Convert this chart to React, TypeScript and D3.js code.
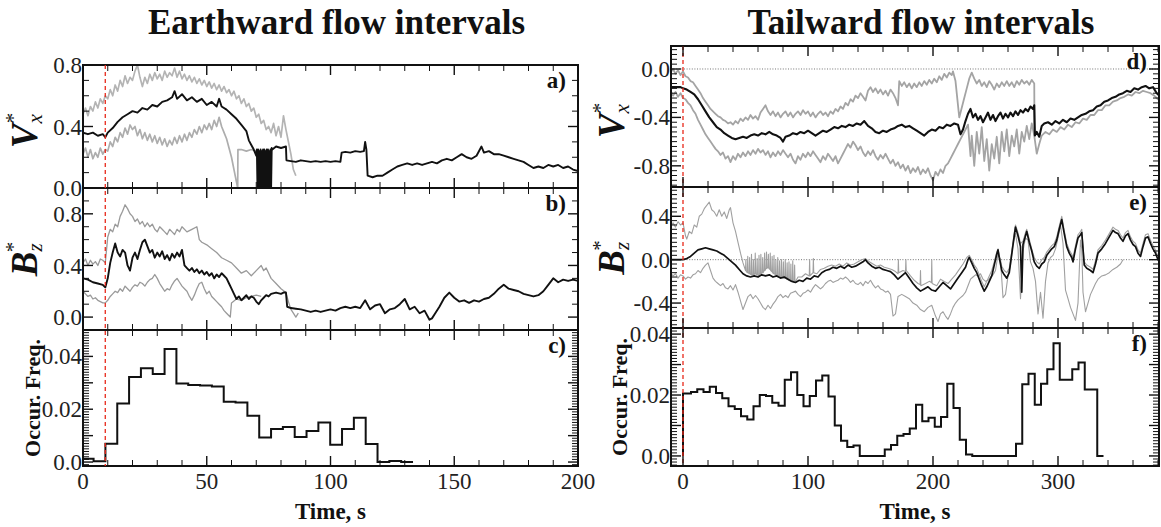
import React from "react";
import * as d3 from "d3";

type Pt = [number, number];

// ---------- Earthward flow intervals (left column) ----------
// a) Vx* : median (black), upper and lower quartiles (grey)
const earthVxMedian: Pt[] = [
  [0, 0.36], [2, 0.35], [4, 0.36], [6, 0.34], [8, 0.35], [9, 0.33], [10, 0.36], [12, 0.39], [14, 0.43], [16, 0.46],
  [18, 0.48], [20, 0.5], [22, 0.49], [24, 0.52], [26, 0.51], [28, 0.54], [30, 0.53], [32, 0.56], [34, 0.57], [36, 0.59],
  [37, 0.63], [38, 0.58], [40, 0.61], [42, 0.57], [44, 0.59], [46, 0.56], [48, 0.58], [50, 0.54], [52, 0.56], [54, 0.53],
  [55, 0.58], [56, 0.53], [58, 0.51], [60, 0.48], [62, 0.45], [64, 0.41], [66, 0.37], [67, 0.31], [68, 0.28], [69, 0.25],
  [70, 0.21], [70.25, 0.25], [70.5, 0.0], [70.75, 0.25], [71, 0.0], [71.25, 0.24], [71.5, 0.0], [71.75, 0.25],
  [72, 0.0], [72.25, 0.24], [72.5, 0.0], [72.75, 0.25], [73, 0.0], [73.25, 0.25], [73.5, 0.0], [73.75, 0.24],
  [74, 0.0], [74.25, 0.25], [74.5, 0.0], [74.75, 0.25], [75, 0.0], [75.25, 0.24], [75.5, 0.0], [75.75, 0.25],
  [76, 0.0], [76.25, 0.26], [76.5, 0.25], [78, 0.27], [80, 0.26], [82, 0.27], [82.2, 0.18],
  [84, 0.175], [86, 0.17], [88, 0.18], [90, 0.175], [92, 0.17], [94, 0.175], [96, 0.17], [98, 0.175], [100, 0.17],
  [102, 0.175], [104, 0.17], [104.5, 0.23], [106, 0.235], [108, 0.23], [110, 0.24], [112, 0.235], [113.5, 0.24],
  [114, 0.3], [114.5, 0.25], [115, 0.08], [117, 0.07], [119, 0.08], [121, 0.08], [123, 0.1], [125, 0.12], [127, 0.14],
  [129, 0.15], [131, 0.16], [133, 0.15], [135, 0.16], [137, 0.15], [139, 0.16], [141, 0.17], [143, 0.16], [145, 0.18],
  [147, 0.19], [149, 0.18], [151, 0.2], [153, 0.22], [155, 0.2], [157, 0.19], [159, 0.21], [161, 0.27], [162, 0.23],
  [164, 0.24], [166, 0.22], [168, 0.22], [170, 0.21], [172, 0.2], [174, 0.19], [176, 0.18], [178, 0.17], [180, 0.15],
  [182, 0.13], [184, 0.14], [186, 0.13], [188, 0.15], [190, 0.14], [192, 0.15], [194, 0.13], [196, 0.14], [198, 0.12],
  [200, 0.11],
];
const earthVxUpper: Pt[] = [
  [0, 0.48], [1, 0.52], [2, 0.47], [3, 0.53], [4, 0.5], [5, 0.56], [6, 0.52], [7, 0.58], [8, 0.55], [9, 0.6],
  [10, 0.58], [11, 0.64], [12, 0.6], [13, 0.67], [14, 0.63], [15, 0.7], [16, 0.66], [17, 0.73], [18, 0.68], [19, 0.72],
  [20, 0.7], [21, 0.76], [22, 0.8], [23, 0.72], [24, 0.66], [25, 0.72], [26, 0.68], [27, 0.74], [28, 0.7], [29, 0.75],
  [30, 0.71], [31, 0.74], [32, 0.7], [33, 0.76], [34, 0.72], [35, 0.75], [36, 0.73], [37, 0.78], [38, 0.72], [39, 0.76],
  [40, 0.71], [41, 0.74], [42, 0.7], [43, 0.73], [44, 0.69], [45, 0.72], [46, 0.68], [47, 0.71], [48, 0.67], [49, 0.7],
  [50, 0.66], [51, 0.69], [52, 0.65], [53, 0.68], [54, 0.64], [55, 0.67], [56, 0.63], [57, 0.66], [58, 0.62], [59, 0.64],
  [60, 0.6], [61, 0.63], [62, 0.58], [63, 0.6], [64, 0.55], [65, 0.58], [66, 0.53], [67, 0.55], [68, 0.5], [69, 0.52],
  [70, 0.46], [71, 0.48], [72, 0.42], [73, 0.44], [74, 0.38], [75, 0.4], [76, 0.36], [77, 0.42], [78, 0.34], [79, 0.4],
  [80, 0.33], [81, 0.47], [82, 0.38], [83, 0.3], [84, 0.22], [85, 0.12], [86, 0.08],
];
const earthVxLower: Pt[] = [
  [0, 0.22], [1, 0.26], [2, 0.2], [3, 0.25], [4, 0.19], [5, 0.23], [6, 0.2], [7, 0.26], [8, 0.22], [9, 0.25],
  [10, 0.24], [11, 0.3], [12, 0.27], [13, 0.33], [14, 0.3], [15, 0.36], [16, 0.33], [17, 0.39], [18, 0.35], [19, 0.41],
  [20, 0.38], [21, 0.4], [22, 0.34], [23, 0.38], [24, 0.32], [25, 0.36], [26, 0.31], [27, 0.35], [28, 0.3], [29, 0.34],
  [30, 0.29], [31, 0.33], [32, 0.28], [33, 0.32], [34, 0.27], [35, 0.31], [36, 0.28], [37, 0.33], [38, 0.29], [39, 0.34],
  [40, 0.3], [41, 0.35], [42, 0.31], [43, 0.36], [44, 0.33], [45, 0.38], [46, 0.35], [47, 0.4], [48, 0.36], [49, 0.41],
  [50, 0.38], [51, 0.42], [52, 0.38], [53, 0.44], [54, 0.4], [55, 0.46], [56, 0.4], [57, 0.36], [58, 0.32], [59, 0.26],
  [60, 0.2], [61, 0.12], [62, 0.04], [62.5, 0.0], [62.6, 0.25], [64, 0.25], [66, 0.24], [68, 0.25], [70, 0.24], [71, 0.22],
];

// b) Bz*
const earthBzMedian: Pt[] = [
  [0, 0.3], [2, 0.29], [4, 0.27], [6, 0.26], [8, 0.25], [9, 0.23], [10, 0.3], [11, 0.42], [12, 0.5], [13, 0.57],
  [14, 0.5], [15, 0.47], [16, 0.52], [17, 0.5], [18, 0.4], [19, 0.36], [20, 0.46], [21, 0.5], [22, 0.45], [23, 0.52],
  [24, 0.58], [25, 0.6], [26, 0.55], [27, 0.5], [28, 0.52], [29, 0.46], [30, 0.5], [31, 0.47], [32, 0.51], [33, 0.45],
  [34, 0.48], [35, 0.44], [36, 0.49], [37, 0.46], [38, 0.5], [39, 0.47], [40, 0.52], [41, 0.4], [42, 0.38], [43, 0.36],
  [44, 0.38], [45, 0.35], [46, 0.37], [47, 0.34], [48, 0.36], [49, 0.33], [50, 0.35], [51, 0.32], [52, 0.34], [53, 0.3],
  [54, 0.33], [55, 0.31], [56, 0.34], [57, 0.32], [58, 0.3], [59, 0.26], [60, 0.22], [61, 0.18], [62, 0.14], [63, 0.16],
  [64, 0.13], [65, 0.15], [66, 0.17], [67, 0.14], [68, 0.16], [69, 0.15], [70, 0.12], [71, 0.1], [72, 0.13], [73, 0.15],
  [74, 0.17], [75, 0.16], [76, 0.18], [78, 0.19], [80, 0.18], [81, 0.19], [82, 0.19], [82.5, 0.08], [84, 0.07],
  [86, 0.065], [88, 0.06], [90, 0.05], [92, 0.04], [94, 0.05], [96, 0.04], [98, 0.05], [100, 0.06], [102, 0.05],
  [104, 0.07], [106, 0.08], [108, 0.07], [110, 0.08], [112, 0.07], [114, 0.13], [116, 0.06], [118, 0.09], [120, 0.1],
  [122, 0.03], [124, 0.06], [126, 0.07], [128, 0.1], [130, 0.14], [132, 0.06], [134, 0.08], [136, 0.03], [138, 0.05],
  [140, -0.02], [141, -0.01], [142, 0.02], [144, 0.08], [146, 0.15], [148, 0.19], [150, 0.15], [152, 0.12], [154, 0.13],
  [156, 0.11], [158, 0.13], [160, 0.12], [162, 0.14], [164, 0.15], [166, 0.18], [168, 0.22], [170, 0.25], [172, 0.22],
  [174, 0.21], [176, 0.2], [178, 0.18], [180, 0.17], [182, 0.16], [184, 0.17], [186, 0.2], [188, 0.25], [190, 0.3],
  [192, 0.27], [194, 0.29], [196, 0.28], [198, 0.29], [200, 0.28],
];
const earthBzUpper: Pt[] = [
  [0, 0.42], [1, 0.45], [2, 0.4], [3, 0.44], [4, 0.41], [5, 0.43], [6, 0.4], [7, 0.45], [8, 0.44], [9, 0.42],
  [10, 0.62], [11, 0.68], [12, 0.66], [13, 0.72], [14, 0.7], [15, 0.78], [16, 0.82], [17, 0.87], [18, 0.84], [19, 0.8],
  [20, 0.78], [21, 0.74], [22, 0.76], [23, 0.72], [24, 0.74], [25, 0.7], [26, 0.73], [27, 0.7], [28, 0.72], [29, 0.68],
  [30, 0.66], [31, 0.7], [32, 0.68], [33, 0.66], [34, 0.64], [35, 0.68], [36, 0.66], [37, 0.64], [38, 0.68], [39, 0.66],
  [40, 0.7], [42, 0.66], [44, 0.68], [46, 0.7], [47, 0.6], [48, 0.58], [50, 0.56], [52, 0.53], [54, 0.5], [56, 0.46],
  [58, 0.44], [60, 0.42], [62, 0.38], [64, 0.34], [66, 0.36], [68, 0.32], [70, 0.36], [72, 0.4], [73, 0.36], [74, 0.38],
  [76, 0.3], [78, 0.26], [80, 0.22], [82, 0.19], [83, 0.12], [84, 0.06], [85, 0.03], [86, 0.0], [87, 0.03],
];
const earthBzLower: Pt[] = [
  [0, 0.2], [1, 0.18], [2, 0.16], [3, 0.17], [4, 0.14], [5, 0.15], [6, 0.13], [7, 0.12], [8, 0.11], [9, 0.11],
  [10, 0.13], [11, 0.16], [12, 0.18], [13, 0.2], [14, 0.19], [15, 0.22], [16, 0.2], [17, 0.24], [18, 0.22], [19, 0.2],
  [20, 0.23], [21, 0.25], [22, 0.24], [23, 0.27], [24, 0.26], [25, 0.24], [26, 0.27], [27, 0.29], [28, 0.3], [29, 0.33],
  [30, 0.3], [31, 0.26], [32, 0.23], [33, 0.2], [34, 0.22], [35, 0.21], [36, 0.25], [37, 0.28], [38, 0.3], [39, 0.27],
  [40, 0.24], [41, 0.22], [42, 0.2], [43, 0.16], [44, 0.13], [45, 0.17], [46, 0.22], [47, 0.26], [48, 0.27], [49, 0.22],
  [50, 0.18], [51, 0.2], [52, 0.16], [53, 0.14], [54, 0.12], [55, 0.1], [56, 0.08], [57, 0.05], [58, 0.03], [59, 0.01],
  [59.5, 0.0], [60, 0.11], [62, 0.14], [64, 0.13], [66, 0.15], [68, 0.16], [70, 0.17], [72, 0.16],
];

// c) occurrence frequency histogram
const earthBinStart = -0.5;
const earthBinWidth = 4.78;
const earthFreq = [
  0.0012, 0.0003, 0.0069, 0.0222, 0.0322, 0.0355, 0.0333, 0.0428, 0.0297, 0.0292, 0.029, 0.0286, 0.0228, 0.0225,
  0.0175, 0.0093, 0.0125, 0.0133, 0.0095, 0.0118, 0.015, 0.0065, 0.0125, 0.0168, 0.0068, 0.0, 0.0004, 0.0,
];

// ---------- Tailward flow intervals (right column) ----------
// d) Vx*
const tailVxMedian: Pt[] = [
  [-10, -0.15], [-6, -0.15], [-2, -0.15], [0, -0.16], [3, -0.17], [6, -0.19], [9, -0.21], [12, -0.25], [15, -0.3],
  [18, -0.35], [21, -0.4], [24, -0.44], [27, -0.48], [30, -0.5], [33, -0.53], [36, -0.55], [39, -0.57], [42, -0.58],
  [45, -0.57], [48, -0.56], [51, -0.57], [54, -0.55], [57, -0.54], [60, -0.55], [63, -0.53], [66, -0.54], [69, -0.52],
  [72, -0.54], [75, -0.55], [78, -0.57], [80, -0.6], [82, -0.56], [85, -0.55], [88, -0.53], [91, -0.54], [94, -0.52],
  [97, -0.53], [100, -0.51], [103, -0.53], [106, -0.55], [109, -0.53], [112, -0.51], [115, -0.52], [118, -0.5],
  [121, -0.48], [124, -0.49], [127, -0.47], [130, -0.48], [133, -0.46], [136, -0.47], [139, -0.45], [142, -0.46],
  [145, -0.43], [148, -0.47], [151, -0.49], [154, -0.52], [157, -0.53], [160, -0.51], [163, -0.52], [166, -0.5],
  [169, -0.49], [172, -0.47], [175, -0.46], [178, -0.48], [181, -0.47], [184, -0.49], [187, -0.51], [190, -0.53],
  [193, -0.55], [196, -0.52], [199, -0.5], [202, -0.51], [205, -0.48], [208, -0.49], [211, -0.46], [214, -0.47],
  [217, -0.45], [220, -0.46], [222, -0.54], [224, -0.5], [226, -0.43], [228, -0.37], [230, -0.33], [232, -0.4],
  [234, -0.37], [236, -0.42], [238, -0.39], [240, -0.44], [242, -0.4], [244, -0.36], [246, -0.42], [248, -0.38],
  [250, -0.43], [252, -0.39], [254, -0.36], [256, -0.41], [258, -0.37], [260, -0.4], [262, -0.36], [264, -0.39],
  [266, -0.35], [268, -0.38], [270, -0.34], [272, -0.36], [274, -0.33], [276, -0.35], [278, -0.31], [280, -0.33],
  [281, -0.3], [281.5, -0.55], [283, -0.52], [285, -0.56], [287, -0.47], [289, -0.45], [292, -0.44], [295, -0.46],
  [298, -0.43], [301, -0.45], [304, -0.42], [307, -0.44], [310, -0.41], [313, -0.42], [316, -0.4], [319, -0.38],
  [322, -0.37], [325, -0.35], [328, -0.34], [331, -0.31], [334, -0.3], [337, -0.27], [340, -0.26], [343, -0.24],
  [346, -0.23], [349, -0.21], [352, -0.2], [355, -0.18], [358, -0.19], [361, -0.16], [364, -0.17], [367, -0.15],
  [370, -0.14], [373, -0.16], [376, -0.15], [379, -0.2], [382, -0.23],
];
const tailVxUpper: Pt[] = [
  [-10, -0.03], [-8, 0.0], [-6, -0.04], [-4, -0.01], [-2, -0.05], [0, -0.02], [2, -0.06], [4, -0.07], [6, -0.1],
  [8, -0.11], [10, -0.14], [12, -0.17], [14, -0.2], [16, -0.24], [18, -0.27], [20, -0.3], [22, -0.33], [24, -0.35],
  [26, -0.37], [28, -0.39], [30, -0.4], [32, -0.42], [34, -0.43], [36, -0.45], [38, -0.44], [40, -0.46], [42, -0.43],
  [44, -0.45], [46, -0.41], [48, -0.43], [50, -0.4], [52, -0.42], [54, -0.38], [56, -0.41], [58, -0.39], [60, -0.42],
  [62, -0.36], [64, -0.33], [66, -0.3], [68, -0.35], [70, -0.38], [72, -0.35], [74, -0.39], [76, -0.36], [78, -0.4],
  [80, -0.37], [82, -0.35], [84, -0.39], [86, -0.36], [88, -0.4], [90, -0.37], [92, -0.35], [94, -0.38], [96, -0.34],
  [98, -0.37], [100, -0.35], [102, -0.39], [104, -0.36], [106, -0.4], [108, -0.37], [110, -0.35], [112, -0.38],
  [114, -0.36], [116, -0.39], [118, -0.35], [120, -0.37], [122, -0.33], [124, -0.35], [126, -0.31], [128, -0.33],
  [130, -0.28], [132, -0.3], [134, -0.25], [136, -0.27], [138, -0.22], [140, -0.24], [142, -0.2], [144, -0.23],
  [146, -0.26], [148, -0.18], [150, -0.15], [152, -0.19], [154, -0.16], [156, -0.2], [158, -0.17], [160, -0.21],
  [162, -0.18], [164, -0.22], [166, -0.17], [168, -0.2], [170, -0.24], [172, -0.3], [173, -0.1], [175, -0.14],
  [177, -0.11], [179, -0.15], [181, -0.12], [183, -0.16], [185, -0.12], [187, -0.15], [189, -0.11], [191, -0.14],
  [193, -0.1], [195, -0.13], [197, -0.09], [199, -0.12], [201, -0.08], [203, -0.11], [205, -0.06], [207, -0.09],
  [209, -0.04], [211, -0.07], [213, -0.03], [215, -0.05], [216, -0.02], [218, -0.1], [220, -0.3], [221, -0.4],
  [223, -0.32], [225, -0.24], [227, -0.16], [229, -0.08], [231, -0.03], [233, -0.08], [235, -0.12], [237, -0.09],
  [239, -0.14], [241, -0.11], [243, -0.15], [245, -0.1], [247, -0.13], [249, -0.17], [251, -0.12], [253, -0.15],
  [255, -0.11], [257, -0.14], [259, -0.1], [261, -0.14], [263, -0.11], [265, -0.15], [267, -0.1], [269, -0.13],
  [271, -0.09], [273, -0.12], [275, -0.1], [277, -0.13], [279, -0.09], [281, -0.12], [281.2, -0.52],
];
const tailVxLower: Pt[] = [
  [-10, -0.18], [-8, -0.22], [-6, -0.19], [-4, -0.23], [-2, -0.2], [0, -0.24], [2, -0.25], [4, -0.28], [6, -0.3],
  [8, -0.34], [10, -0.37], [12, -0.42], [14, -0.46], [16, -0.5], [18, -0.54], [20, -0.57], [22, -0.6], [24, -0.63],
  [26, -0.66], [28, -0.68], [30, -0.71], [32, -0.69], [34, -0.74], [36, -0.72], [38, -0.77], [40, -0.72], [42, -0.75],
  [44, -0.7], [46, -0.73], [48, -0.69], [50, -0.72], [52, -0.68], [54, -0.71], [56, -0.67], [58, -0.7], [60, -0.66],
  [62, -0.69], [64, -0.67], [66, -0.71], [68, -0.68], [70, -0.73], [72, -0.69], [74, -0.72], [76, -0.68], [78, -0.71],
  [80, -0.67], [82, -0.7], [84, -0.73], [86, -0.7], [88, -0.75], [90, -0.78], [92, -0.72], [94, -0.75], [96, -0.7],
  [98, -0.73], [100, -0.69], [102, -0.72], [104, -0.68], [106, -0.71], [108, -0.74], [110, -0.77], [112, -0.72],
  [114, -0.75], [116, -0.7], [118, -0.73], [120, -0.76], [122, -0.72], [124, -0.78], [126, -0.74], [128, -0.7],
  [130, -0.66], [132, -0.62], [134, -0.65], [136, -0.6], [138, -0.63], [140, -0.67], [142, -0.64], [144, -0.69],
  [146, -0.72], [148, -0.68], [150, -0.71], [152, -0.67], [154, -0.72], [156, -0.75], [158, -0.71], [160, -0.74],
  [162, -0.7], [164, -0.74], [166, -0.78], [168, -0.75], [170, -0.8], [172, -0.77], [174, -0.82], [176, -0.79],
  [178, -0.84], [180, -0.8], [182, -0.86], [184, -0.82], [186, -0.85], [188, -0.81], [190, -0.87], [192, -0.83],
  [194, -0.86], [196, -0.82], [198, -0.88], [200, -0.92], [202, -0.85], [204, -0.88], [206, -0.83], [208, -0.86],
  [210, -0.8], [212, -0.78], [214, -0.74], [216, -0.7], [218, -0.66], [220, -0.62], [222, -0.58], [224, -0.54],
  [226, -0.5], [228, -0.46], [230, -0.72], [231, -0.55], [233, -0.8], [235, -0.52], [237, -0.7], [239, -0.48],
  [241, -0.76], [243, -0.58], [245, -0.84], [247, -0.62], [249, -0.74], [251, -0.56], [253, -0.78], [255, -0.52],
  [257, -0.68], [259, -0.5], [261, -0.72], [263, -0.55], [265, -0.64], [267, -0.5], [269, -0.7], [271, -0.52],
  [273, -0.6], [275, -0.47], [277, -0.58], [279, -0.45], [281, -0.55], [283, -0.7], [285, -0.62], [287, -0.55],
  [290, -0.52], [293, -0.54], [296, -0.5], [299, -0.52], [302, -0.48], [305, -0.5], [308, -0.46], [311, -0.48],
  [314, -0.44], [317, -0.45], [320, -0.41], [323, -0.42], [326, -0.38], [329, -0.38], [332, -0.34], [335, -0.34],
  [338, -0.3], [341, -0.3], [344, -0.27], [347, -0.26], [350, -0.24], [353, -0.23], [356, -0.21], [359, -0.22],
  [362, -0.19], [365, -0.2], [368, -0.18], [371, -0.19], [374, -0.2], [377, -0.22], [380, -0.25], [383, -0.27],
];

// e) Bz*
const tailBzMedian: Pt[] = [
  [-10, 0.0], [-6, 0.0], [-2, 0.0], [0, 0.0], [3, 0.01], [6, 0.03], [9, 0.06], [12, 0.09], [15, 0.1], [18, 0.11],
  [21, 0.1], [24, 0.09], [27, 0.08], [30, 0.06], [33, 0.04], [36, 0.01], [39, -0.02], [42, -0.05], [45, -0.09],
  [48, -0.13], [51, -0.15], [54, -0.16], [57, -0.15], [60, -0.16], [63, -0.14], [66, -0.15], [69, -0.14], [72, -0.16],
  [75, -0.15], [78, -0.17], [81, -0.16], [84, -0.18], [87, -0.2], [90, -0.21], [93, -0.19], [96, -0.2], [99, -0.17],
  [102, -0.18], [105, -0.15], [108, -0.16], [111, -0.12], [114, -0.1], [117, -0.09], [120, -0.07], [123, -0.08],
  [126, -0.06], [129, -0.08], [132, -0.05], [135, -0.07], [138, -0.06], [141, -0.04], [144, -0.02], [146, 0.0],
  [148, -0.03], [151, -0.06], [154, -0.08], [157, -0.07], [160, -0.09], [163, -0.1], [166, -0.11], [169, -0.14],
  [172, -0.18], [175, -0.15], [178, -0.12], [181, -0.17], [184, -0.22], [187, -0.26], [190, -0.29], [193, -0.27],
  [196, -0.25], [199, -0.28], [202, -0.29], [205, -0.25], [208, -0.21], [211, -0.24], [214, -0.27], [217, -0.22],
  [220, -0.17], [223, -0.12], [226, -0.07], [228, 0.0], [229, 0.02], [231, -0.03], [233, -0.08], [235, -0.12],
  [237, -0.18], [239, -0.24], [241, -0.29], [243, -0.25], [245, -0.2], [247, -0.15], [249, -0.05], [251, 0.05],
  [252, 0.09], [253, 0.02], [255, -0.1], [257, -0.14], [259, -0.17], [261, -0.12], [263, 0.05], [265, 0.22],
  [266, 0.3], [268, 0.22], [270, 0.12], [271, -0.3], [272, 0.14], [274, 0.22], [275, 0.26], [277, 0.16], [279, 0.08],
  [281, -0.02], [283, -0.06], [285, -0.08], [287, -0.04], [289, -0.02], [291, 0.04], [293, 0.07], [295, 0.1],
  [297, 0.12], [299, 0.18], [301, 0.28], [303, 0.37], [305, 0.24], [307, 0.12], [309, 0.06], [311, 0.02],
  [312, -0.02], [314, 0.1], [316, 0.2], [318, 0.23], [319, 0.25], [320, 0.1], [321, -0.05], [323, -0.08],
  [326, -0.1], [328, -0.12], [330, -0.04], [332, 0.06], [335, 0.1], [338, 0.15], [341, 0.21], [344, 0.27],
  [346, 0.25], [348, 0.24], [350, 0.2], [352, 0.17], [354, 0.22], [356, 0.24], [358, 0.18], [360, 0.14], [362, 0.12],
  [364, 0.06], [366, 0.03], [368, 0.12], [370, 0.2], [372, 0.21], [374, 0.15], [376, 0.1], [378, 0.06], [380, 0.0],
  [382, -0.03],
];
const tailBzUpper: Pt[] = [
  [-10, 0.3], [-8, 0.34], [-6, 0.3], [-4, 0.35], [-2, 0.32], [0, 0.34], [2, 0.22], [3, 0.19], [5, 0.26], [7, 0.24],
  [9, 0.32], [11, 0.3], [13, 0.4], [15, 0.42], [17, 0.47], [19, 0.5], [21, 0.53], [23, 0.46], [25, 0.44], [27, 0.4],
  [29, 0.46], [31, 0.4], [33, 0.44], [35, 0.38], [37, 0.46], [38, 0.48], [40, 0.34], [42, 0.26], [44, 0.16], [46, 0.06],
  [48, -0.03], [50, -0.1], [50.3, 0.0], [50.6, -0.11], [51.5, -0.12], [51.8, 0.03], [52.1, -0.12], [53, -0.13],
  [53.3, 0.02], [53.6, -0.13], [54.5, -0.14], [54.8, 0.05], [55.1, -0.14], [56, -0.14], [56.3, 0.0], [56.6, -0.14],
  [57.5, -0.13], [57.8, 0.06], [58.1, -0.13], [59, -0.14], [59.3, 0.01], [59.6, -0.14], [60.5, -0.15], [60.8, 0.04],
  [61.1, -0.14], [62, -0.13], [62.3, 0.05], [62.6, -0.13], [63.5, -0.12], [63.8, 0.02], [64.1, -0.12], [65, -0.1],
  [65.3, 0.06], [65.6, -0.1], [66.5, -0.08], [66.8, 0.07], [67.1, -0.08], [68, -0.07], [68.3, 0.05], [68.6, -0.08],
  [69.5, -0.09], [69.8, 0.06], [70.1, -0.1], [71, -0.11], [71.3, 0.03], [71.6, -0.12], [72.5, -0.13], [72.8, 0.04],
  [73.1, -0.13], [74, -0.14], [74.3, 0.0], [74.6, -0.14], [75.5, -0.15], [75.8, 0.02], [76.1, -0.15], [77, -0.15],
  [77.3, -0.01], [77.6, -0.16], [78.5, -0.16], [78.8, 0.0], [79.1, -0.16], [80, -0.17], [80.3, -0.02], [80.6, -0.17],
  [81.5, -0.17], [81.8, 0.0], [82.1, -0.17], [83, -0.18], [83.3, -0.03], [83.6, -0.18], [84.5, -0.19], [84.8, -0.02],
  [85.1, -0.19], [86, -0.2], [86.3, -0.04], [86.6, -0.2], [87.5, -0.2], [87.8, -0.01], [88.1, -0.2], [89, -0.21],
  [89.3, -0.05], [89.6, -0.21], [92, -0.16], [95, -0.16], [98, -0.13], [101, -0.15], [101.3, 0.0], [101.6, -0.15],
  [104, -0.12], [104.3, 0.01], [104.6, -0.12], [107, -0.13], [110, -0.09], [113, -0.08], [116, -0.06], [119, -0.05],
  [122, -0.06], [125, -0.04], [128, -0.06], [131, -0.03], [134, -0.05], [137, -0.04], [140, -0.02], [143, 0.0],
  [146, 0.01], [149, -0.02], [152, -0.04], [155, -0.06], [158, -0.05], [161, -0.07], [164, -0.08], [167, -0.09],
  [170, -0.11], [172, -0.13], [172.3, 0.0], [172.6, -0.12], [176, -0.1], [178, -0.11], [178.3, 0.0], [178.6, -0.1],
  [182, -0.15], [185, -0.19], [188, -0.22], [189.7, -0.23], [190, -0.1], [190.3, -0.24], [194, -0.22], [197, -0.2],
  [198.7, -0.21], [199, 0.0], [199.3, -0.22], [203, -0.24], [206, -0.18], [209, -0.2], [212, -0.22], [215, -0.18],
  [218, -0.14], [221, -0.09], [224, -0.04], [227, 0.02], [229, 0.04], [231, 0.0], [233, -0.05], [235, -0.08],
  [237, -0.14], [239, -0.2], [241, -0.25], [243, -0.2], [245, -0.15], [247, -0.1], [249, -0.02], [251, 0.07],
  [252, 0.1], [253, 0.04], [255, -0.06], [257, -0.1], [259, -0.12], [261, -0.08], [263, 0.08], [265, 0.25], [266, 0.32],
  [268, 0.25], [270, 0.15], [272, 0.17], [274, 0.25], [275, 0.28], [277, 0.19], [279, 0.1], [281, 0.02], [283, -0.02],
  [285, -0.04], [287, 0.0], [289, 0.02], [291, 0.07], [293, 0.1], [295, 0.13], [297, 0.15], [299, 0.21], [301, 0.31],
  [303, 0.4], [305, 0.27], [307, 0.15], [309, 0.09], [311, 0.05], [312, 0.02], [314, 0.13], [316, 0.23], [318, 0.26],
  [319, 0.28], [320, 0.13], [321, -0.02], [323, -0.05], [326, -0.07], [328, -0.09], [330, -0.01], [332, 0.09],
  [335, 0.13], [338, 0.18], [341, 0.24], [344, 0.3], [346, 0.28], [348, 0.27], [350, 0.23], [352, 0.2], [354, 0.25],
  [356, 0.27], [358, 0.21], [360, 0.17], [362, 0.15], [364, 0.09], [366, 0.06], [368, 0.15], [370, 0.23], [372, 0.24],
  [374, 0.18], [376, 0.13], [378, 0.09], [380, 0.03], [382, 0.0],
];
const tailBzLower: Pt[] = [
  [-10, -0.12], [-8, -0.15], [-6, -0.13], [-4, -0.17], [-2, -0.14], [0, -0.15], [2, -0.18], [4, -0.16], [6, -0.17],
  [8, -0.14], [10, -0.13], [12, -0.1], [14, -0.12], [16, -0.08], [18, -0.05], [20, -0.03], [22, -0.1], [24, -0.17],
  [26, -0.2], [28, -0.22], [30, -0.24], [32, -0.22], [34, -0.26], [36, -0.27], [38, -0.24], [40, -0.28], [42, -0.23],
  [44, -0.3], [46, -0.38], [48, -0.46], [50, -0.4], [52, -0.34], [54, -0.32], [56, -0.36], [58, -0.33], [60, -0.36],
  [62, -0.4], [64, -0.44], [66, -0.46], [68, -0.42], [70, -0.45], [72, -0.41], [74, -0.38], [76, -0.34], [78, -0.32],
  [80, -0.35], [82, -0.33], [84, -0.35], [86, -0.31], [88, -0.3], [90, -0.29], [92, -0.32], [94, -0.34], [96, -0.31],
  [98, -0.3], [100, -0.28], [102, -0.3], [104, -0.26], [106, -0.23], [108, -0.25], [110, -0.27], [112, -0.25],
  [114, -0.22], [116, -0.2], [118, -0.19], [120, -0.21], [122, -0.2], [124, -0.19], [126, -0.17], [128, -0.18],
  [130, -0.16], [132, -0.18], [134, -0.21], [136, -0.19], [138, -0.22], [140, -0.23], [142, -0.21], [144, -0.24],
  [146, -0.2], [148, -0.22], [150, -0.19], [152, -0.23], [154, -0.26], [156, -0.24], [158, -0.27], [160, -0.28],
  [162, -0.3], [164, -0.29], [166, -0.32], [168, -0.52], [170, -0.5], [172, -0.34], [175, -0.32], [178, -0.34],
  [181, -0.36], [184, -0.4], [187, -0.42], [190, -0.46], [193, -0.48], [196, -0.44], [199, -0.42], [202, -0.52],
  [204, -0.57], [206, -0.5], [208, -0.48], [210, -0.52], [212, -0.55], [214, -0.5], [216, -0.44], [218, -0.4],
  [220, -0.37], [222, -0.35], [224, -0.33], [226, -0.3], [228, -0.24], [230, -0.18], [232, -0.16], [234, -0.14],
  [236, -0.15], [238, -0.13], [240, -0.18], [242, -0.2], [244, -0.19], [246, -0.16], [248, -0.14], [250, -0.1],
  [252, 0.05], [254, 0.0], [256, -0.35], [258, -0.32], [260, -0.15], [262, -0.05], [264, 0.15], [266, 0.24],
  [268, 0.1], [270, -0.36], [272, 0.08], [274, 0.2], [276, 0.18], [278, -0.02], [280, -0.08], [282, -0.2],
  [284, -0.5], [286, -0.3], [288, -0.54], [290, -0.2], [292, -0.03], [294, 0.02], [296, 0.04], [298, 0.1], [300, 0.2],
  [302, 0.32], [304, 0.15], [306, -0.28], [308, -0.36], [310, -0.44], [312, -0.5], [314, -0.56], [316, -0.4],
  [318, 0.18], [319, 0.1], [320, -0.3], [322, -0.48], [324, -0.4], [326, -0.32], [328, -0.27], [330, -0.22],
  [332, -0.18], [335, -0.15], [338, -0.14], [341, -0.12], [344, -0.09], [347, -0.07], [350, -0.04], [352, 0.0],
];

// f) occurrence frequency histogram
const tailBinStart = -3.6;
const tailBinWidth = 5;
const tailFreq = [
  0.0205, 0.0205, 0.021, 0.0219, 0.021, 0.0227, 0.0207, 0.0189, 0.0163, 0.0154, 0.013, 0.012, 0.0163, 0.02, 0.0197,
  0.0175, 0.0165, 0.025, 0.0275, 0.02, 0.0163, 0.0197, 0.0248, 0.0264, 0.0195, 0.01, 0.005, 0.0029, 0.0034, 0, 0, 0,
  0, 0.0021, 0.0036, 0.0066, 0.0072, 0.009, 0.0168, 0.0114, 0.0125, 0.0096, 0.0128, 0.0237, 0.0157, 0.0053, 0.0005,
  0, 0, 0, 0, 0, 0, 0, 0.004, 0.0235, 0.027, 0.0168, 0.0237, 0.0285, 0.037, 0.025, 0.025, 0.0285, 0.0307, 0.0218,
  0.0218, 0,
];

// ticks / labels
const earthTimeTicks = [0, 50, 100, 150, 200];
const tailTimeTicks = [0, 100, 200, 300];
const earthVxLabels = [0, 0.4, 0.8];
const earthBzLabels = [0, 0.4, 0.8];
const freqLabels = [0, 0.02, 0.04];
const tailVxLabels = [0, -0.4, -0.8];
const tailBzLabels = [0.4, 0, -0.4];
const earthOnset = 9;
const tailOnset = 0;

const FONT = "'Liberation Serif', 'Times New Roman', serif";

type Series = { data: Pt[]; color: string; width: number };
type Hist = { start: number; width: number; values: number[]; from: number };
type PanelCfg = {
  id: string;
  tag: string;
  top: number;
  bottom: number;
  yDomain: [number, number];
  yLabels: number[];
  yMajor: number;
  yMinor: number;
  fmt: (v: number) => string;
  lines?: Series[];
  hist?: Hist;
  zero?: boolean;
};
type Seg = { x1: number; y1: number; x2: number; y2: number };

function steps(lo: number, hi: number, step: number): number[] {
  const out: number[] = [];
  const a = Math.ceil(lo / step - 1e-6);
  const b = Math.floor(hi / step + 1e-6);
  for (let k = a; k <= b; k++) out.push(Math.round(k * step * 1e6) / 1e6);
  return out;
}

function Panel({ p, x }: { p: PanelCfg; x: d3.ScaleLinear<number, number> }) {
  const y = d3.scaleLinear().domain(p.yDomain).range([p.bottom, p.top]);
  const xl = x.range()[0];
  const xr = x.range()[1];
  const line = d3.line<Pt>().x((d) => x(d[0])).y((d) => y(d[1]));

  let histPath: string | null = null;
  if (p.hist) {
    const h = p.hist;
    const pts: Pt[] = [];
    h.values.forEach((v, i) => {
      const a = Math.max(h.from, h.start + i * h.width);
      const b = h.start + (i + 1) * h.width;
      if (i === 0) pts.push([a, 0]);
      pts.push([a, v], [b, v]);
    });
    pts.push([pts[pts.length - 1][0], 0]);
    histPath = line(pts);
  }

  return (
    <g>
      <defs>
        <clipPath id={"clip-" + p.id}>
          <rect x={xl} y={p.top} width={xr - xl} height={p.bottom - p.top} />
        </clipPath>
      </defs>
      <g clipPath={`url(#clip-${p.id})`}>
        {p.zero && (
          <line x1={xl} x2={xr} y1={y(0)} y2={y(0)} stroke="#666" strokeWidth={0.9} strokeDasharray="1,1.6" />
        )}
        {(p.lines || []).map((s, i) => (
          <path key={i} d={line(s.data) || ""} fill="none" stroke={s.color} strokeWidth={s.width} strokeLinejoin="round" />
        ))}
        {histPath && <path d={histPath} fill="none" stroke="#111" strokeWidth={2} />}
      </g>
      <rect x={xl} y={p.top} width={xr - xl} height={p.bottom - p.top} fill="none" stroke="#111" strokeWidth={2} />
      <text x={xr - 12} y={p.top + 23} textAnchor="end" fontFamily={FONT} fontWeight="bold" fontSize={23} fill="#111">
        {p.tag}
      </text>
      {p.yLabels.map((v) => (
        <text key={"l" + v} x={xl - 1} y={y(v)} dy="0.35em" textAnchor="end" fontFamily={FONT} fontSize={23} fill="#222">
          {p.fmt(v)}
        </text>
      ))}
    </g>
  );
}

function AxisTitle({ x, y, main, sub }: { x: number; y: number; main: string; sub: string }) {
  return (
    <text transform={`translate(${x},${y}) rotate(-90)`} textAnchor="middle" fontFamily={FONT} fill="#111">
      <tspan fontSize={37} fontWeight="bold" fontStyle="italic">{main}</tspan>
      <tspan fontSize={21} fontStyle="italic" dy={5}>{sub}</tspan>
      <tspan fontSize={21} dx={-9} dy={-22}>*</tspan>
    </text>
  );
}

function Column({
  x, title, panels, timeTicks, onset, labelX,
}: {
  x: d3.ScaleLinear<number, number>;
  title: string;
  panels: PanelCfg[];
  timeTicks: number[];
  onset: number;
  labelX: number;
}) {
  const cx = (x.range()[0] + x.range()[1]) / 2;
  const top = panels[0].top;
  const bottom = panels[2].bottom;
  return (
    <g>
      <text x={cx + 6} y={34} textAnchor="middle" fontFamily={FONT} fontWeight="bold" fontSize={35} fill="#111">
        {title}
      </text>
      {panels.map((p) => (
        <Panel key={p.id} p={p} x={x} />
      ))}
      <line x1={x(onset)} x2={x(onset)} y1={top} y2={bottom} stroke="#e8281a" strokeWidth={1.3} strokeDasharray="4,3" />
      {timeTicks.map((t) => (
        <text key={t} x={x(t)} y={489} textAnchor="middle" fontFamily={FONT} fontSize={23} fill="#222">
          {t}
        </text>
      ))}
      <text x={cx} y={519} textAnchor="middle" fontFamily={FONT} fontWeight="bold" fontSize={23} fill="#111">
        Time, s
      </text>
      <AxisTitle x={labelX} y={(panels[0].top + panels[0].bottom) / 2 + 4} main="V" sub="x" />
      <AxisTitle x={labelX} y={(panels[1].top + panels[1].bottom) / 2} main="B" sub="z" />
      <text
        transform={`translate(${labelX + 3},${(panels[2].top + panels[2].bottom) / 2}) rotate(-90)`}
        textAnchor="middle" fontFamily={FONT} fontWeight="bold" fontSize={22} fill="#111"
      >
        Occur. Freq.
      </text>
    </g>
  );
}

const f1 = (v: number) => v.toFixed(1);
const fFreq = (v: number) => (v === 0 ? "0.0" : v.toFixed(2));

export default function App() {
  const xEarth = d3.scaleLinear().domain([0, 200]).range([83, 578]);
  const xTail = d3.scaleLinear().domain([-9.6, 380.8]).range([671, 1159]);

  const earthPanels: PanelCfg[] = [
    {
      id: "pa", tag: "a)", top: 65, bottom: 188, yDomain: [0, 0.8], yLabels: earthVxLabels, yMajor: 0.4, yMinor: 0.1, fmt: f1,
      lines: [
        { data: earthVxUpper, color: "#b4b4b4", width: 1.7 },
        { data: earthVxLower, color: "#adadad", width: 1.7 },
        { data: earthVxMedian, color: "#111", width: 1.9 },
      ],
    },
    {
      id: "pb", tag: "b)", top: 188, bottom: 330, yDomain: [-0.1, 1.0], yLabels: earthBzLabels, yMajor: 0.4, yMinor: 0.1, fmt: f1,
      lines: [
        { data: earthBzUpper, color: "#9a9a9a", width: 1.3 },
        { data: earthBzLower, color: "#9a9a9a", width: 1.3 },
        { data: earthBzMedian, color: "#111", width: 1.9 },
      ],
    },
    {
      id: "pc", tag: "c)", top: 330, bottom: 466, yDomain: [-0.0015, 0.05], yLabels: freqLabels, yMajor: 0.01, yMinor: 0.001, fmt: fFreq,
      hist: { start: earthBinStart, width: earthBinWidth, values: earthFreq, from: 0 },
    },
  ];

  const tailPanels: PanelCfg[] = [
    {
      id: "pd", tag: "d)", top: 46, bottom: 187, yDomain: [-0.975, 0.19], yLabels: tailVxLabels, yMajor: 0.4, yMinor: 0.04, fmt: f1,
      zero: true,
      lines: [
        { data: tailVxUpper, color: "#a4a4a4", width: 1.8 },
        { data: tailVxLower, color: "#a4a4a4", width: 1.8 },
        { data: tailVxMedian, color: "#111", width: 2.1 },
      ],
    },
    {
      id: "pe", tag: "e)", top: 187, bottom: 328, yDomain: [-0.63, 0.67], yLabels: tailBzLabels, yMajor: 0.4, yMinor: 0.04, fmt: f1,
      zero: true,
      lines: [
        { data: tailBzUpper, color: "#a0a0a0", width: 1.1 },
        { data: tailBzLower, color: "#a0a0a0", width: 1.1 },
        { data: tailBzMedian, color: "#111", width: 1.7 },
      ],
    },
    {
      id: "pf", tag: "f)", top: 328, bottom: 466, yDomain: [-0.0033, 0.042], yLabels: freqLabels, yMajor: 0.01, yMinor: 0.001, fmt: fFreq,
      hist: { start: tailBinStart, width: tailBinWidth, values: tailFreq, from: 0 },
    },
  ];

  // inward tick marks on all four sides of every panel
  const majorSegs: Seg[] = [];
  const minorSegs: Seg[] = [];
  const addTicks = (panels: PanelCfg[], xs: d3.ScaleLinear<number, number>, lo: number, hi: number, xl: number, xr: number, maj: number, min: number) => {
    panels.forEach((p) => {
      const ys = d3.scaleLinear().domain(p.yDomain).range([p.bottom, p.top]);
      const xMaj = steps(lo, hi, maj);
      steps(lo, hi, min).forEach((t) => {
        const isMaj = xMaj.some((m) => Math.abs(m - t) < 1e-6);
        const L = isMaj ? 10 : 6;
        const arr = isMaj ? majorSegs : minorSegs;
        arr.push({ x1: xs(t), y1: p.bottom, x2: xs(t), y2: p.bottom - L });
        arr.push({ x1: xs(t), y1: p.top, x2: xs(t), y2: p.top + L });
      });
      const yMaj = steps(p.yDomain[0], p.yDomain[1], p.yMajor);
      steps(p.yDomain[0], p.yDomain[1], p.yMinor).forEach((v) => {
        const isMaj = yMaj.some((m) => Math.abs(m - v) < 1e-6);
        const L = isMaj ? 10 : 6;
        const arr = isMaj ? majorSegs : minorSegs;
        arr.push({ x1: xl, y1: ys(v), x2: xl + L, y2: ys(v) });
        arr.push({ x1: xr, y1: ys(v), x2: xr - L, y2: ys(v) });
      });
    });
  };
  addTicks(earthPanels, xEarth, 0, 200, 83, 578, 50, 10);
  addTicks(tailPanels, xTail, -9.6, 380.8, 671, 1159, 100, 20);

  return (
    <svg width={1161} height={527} style={{ position: "absolute", left: 0, top: 0 }}>
      <rect width={1161} height={527} fill="#fff" />
      <Column x={xEarth} title="Earthward flow intervals" panels={earthPanels}
        timeTicks={earthTimeTicks} onset={earthOnset} labelX={37} />
      <Column x={xTail} title="Tailward flow intervals" panels={tailPanels}
        timeTicks={tailTimeTicks} onset={tailOnset} labelX={624} />
      {majorSegs.map((s, i) => (
        <line key={"M" + i} x1={s.x1} y1={s.y1} x2={s.x2} y2={s.y2} stroke="#111" strokeWidth={1.4} />
      ))}
      {minorSegs.map((s, i) => (
        <line key={"m" + i} x1={s.x1} y1={s.y1} x2={s.x2} y2={s.y2} stroke="#111" strokeWidth={1} />
      ))}
    </svg>
  );
}
